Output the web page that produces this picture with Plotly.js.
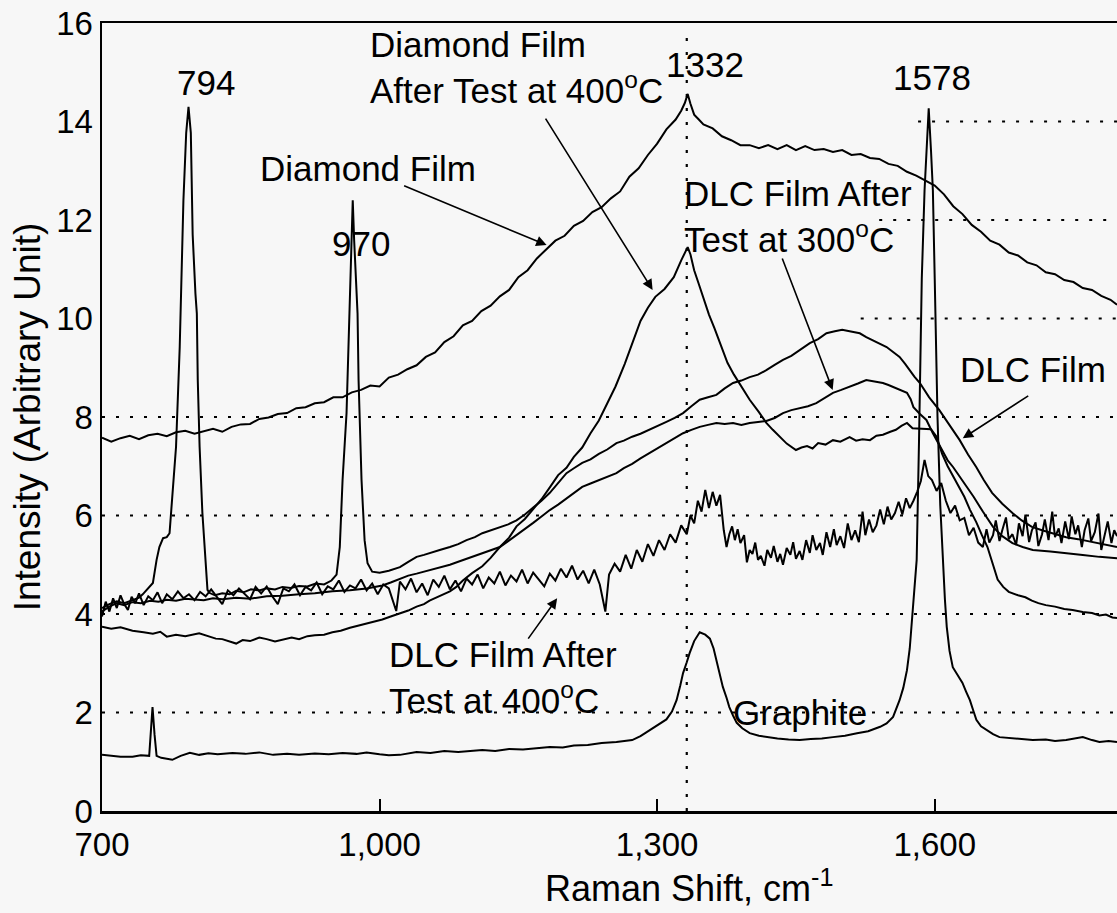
<!DOCTYPE html>
<html>
<head>
<meta charset="utf-8">
<script src="https://cdn.plot.ly/plotly-3.0.1.min.js"></script>
<style>html,body{margin:0;padding:0;background:#f7f7f7;}</style>
</head>
<body>
<div id="chart" style="width:1117px;height:913px;"></div>
<script>
// ---------- DATA (Raman shift cm-1, intensity a.u.) ----------
const diamondFilm = [[700,7.58],[710,7.50],[720,7.57],[730,7.62],[740,7.55],[750,7.63],[760,7.66],[770,7.61],[780,7.69],[790,7.72],[800,7.66],[810,7.71],[820,7.76],[830,7.70],[840,7.80],[850,7.85],[860,7.86],[870,7.96],[880,7.99],[890,8.06],[900,8.08],[910,8.18],[920,8.20],[930,8.28],[940,8.30],[950,8.40],[960,8.40],[970,8.50],[980,8.55],[990,8.64],[1000,8.62],[1010,8.80],[1020,8.86],[1030,8.97],[1040,9.05],[1050,9.22],[1060,9.31],[1070,9.52],[1080,9.64],[1090,9.86],[1100,9.95],[1110,10.15],[1120,10.26],[1130,10.45],[1140,10.58],[1150,10.84],[1160,10.98],[1170,11.22],[1180,11.40],[1190,11.58],[1200,11.68],[1210,11.88],[1220,11.98],[1230,12.16],[1240,12.26],[1250,12.44],[1260,12.58],[1270,12.88],[1280,13.05],[1290,13.32],[1300,13.55],[1310,13.84],[1320,14.04],[1326,14.22],[1330,14.38],[1333,14.56],[1336,14.36],[1340,14.14],[1345,14.04],[1350,13.94],[1360,13.86],[1370,13.70],[1380,13.62],[1390,13.52],[1400,13.52],[1410,13.46],[1420,13.52],[1430,13.44],[1440,13.52],[1450,13.42],[1460,13.50],[1470,13.42],[1480,13.44],[1490,13.38],[1500,13.42],[1510,13.32],[1520,13.34],[1530,13.26],[1540,13.24],[1550,13.14],[1560,13.10],[1570,12.98],[1580,12.90],[1590,12.80],[1600,12.70],[1610,12.52],[1620,12.28],[1630,12.12],[1640,11.90],[1650,11.76],[1660,11.58],[1670,11.50],[1680,11.34],[1690,11.28],[1700,11.14],[1710,11.08],[1720,10.94],[1730,10.90],[1740,10.78],[1750,10.74],[1760,10.62],[1770,10.58],[1780,10.46],[1790,10.38],[1797,10.28]];

const diamondAfter400 = [[700,3.74],[710,3.70],[720,3.73],[733,3.66],[745,3.63],[755,3.60],[763,3.64],[770,3.54],[780,3.58],[790,3.55],[805,3.61],[815,3.54],[823,3.50],[830,3.49],[838,3.44],[845,3.40],[852,3.47],[860,3.45],[870,3.52],[878,3.49],[887,3.44],[895,3.47],[905,3.52],[913,3.49],[922,3.55],[930,3.57],[940,3.58],[949,3.63],[958,3.66],[968,3.72],[977,3.76],[985,3.81],[994,3.84],[1003,3.89],[1012,3.95],[1022,4.01],[1031,4.07],[1040,4.15],[1048,4.20],[1054,4.27],[1065,4.36],[1076,4.46],[1083,4.55],[1090,4.68],[1100,4.83],[1111,4.97],[1120,5.14],[1130,5.36],[1140,5.55],[1148,5.78],[1157,5.93],[1166,6.12],[1175,6.33],[1184,6.57],[1193,6.82],[1202,6.97],[1210,7.19],[1219,7.38],[1228,7.67],[1237,7.93],[1246,8.28],[1255,8.62],[1265,9.08],[1272,9.44],[1282,9.95],[1290,10.22],[1298,10.44],[1308,10.60],[1318,10.84],[1326,11.18],[1330,11.35],[1333,11.45],[1336,11.30],[1340,10.98],[1345,10.70],[1350,10.40],[1356,10.08],[1362,9.80],[1369,9.44],[1376,9.10],[1383,8.86],[1392,8.60],[1400,8.35],[1410,8.10],[1418,7.88],[1425,7.74],[1432,7.60],[1440,7.46],[1450,7.33],[1456,7.38],[1462,7.41],[1468,7.36],[1474,7.47],[1482,7.44],[1490,7.53],[1498,7.50],[1508,7.59],[1515,7.52],[1522,7.55],[1530,7.53],[1537,7.62],[1544,7.64],[1552,7.70],[1558,7.74],[1564,7.82],[1570,7.88],[1576,7.77],[1586,7.76],[1596,7.75],[1602,7.60],[1608,7.25],[1614,7.00],[1620,6.80],[1626,6.58],[1632,6.38],[1638,6.12],[1645,5.86],[1651,5.60],[1657,5.36],[1663,5.00],[1668,4.70],[1674,4.55],[1680,4.45],[1690,4.38],[1698,4.34],[1705,4.27],[1712,4.22],[1720,4.18],[1730,4.15],[1740,4.10],[1749,4.08],[1760,4.04],[1770,4.02],[1778,3.97],[1785,3.99],[1792,3.93],[1797,3.92]];

const dlcFilm = [[700,4.12],[708,4.20],[716,4.26],[724,4.22],[733,4.28],[740,4.33],[744,4.40],[750,4.52],[755,4.63],[759,5.10],[762,5.36],[766,5.54],[770,5.56],[773,5.64],[776,6.38],[780,7.39],[784,9.42],[786,10.8],[788,12.4],[791,13.77],[793.5,14.3],[796,13.77],[798,11.7],[801,10.5],[802.5,10.1],[803.5,8.75],[805.5,7.39],[808.5,6.05],[812,5.03],[814,4.49],[816,4.43],[822,4.38],[830,4.42],[838,4.40],[845,4.47],[853,4.44],[861,4.50],[870,4.48],[878,4.52],[887,4.50],[895,4.55],[904,4.53],[913,4.57],[922,4.56],[931,4.62],[940,4.60],[948,4.68],[953.5,4.80],[957,5.36],[960,6.72],[964.3,8.08],[967.6,10.1],[969.7,11.2],[971,12.4],[972.5,11.6],[975,10.38],[976.2,10.1],[977.3,8.75],[980.5,6.72],[983.8,5.5],[987,5.03],[992,4.86],[1000,4.84],[1010,4.88],[1022,4.95],[1031,5.06],[1040,5.16],[1048,5.20],[1054,5.24],[1065,5.30],[1076,5.36],[1085,5.42],[1094,5.50],[1103,5.56],[1111,5.64],[1120,5.70],[1130,5.77],[1139,5.82],[1148,5.90],[1157,6.02],[1166,6.16],[1175,6.30],[1184,6.46],[1193,6.66],[1202,6.86],[1210,6.96],[1219,7.07],[1228,7.14],[1237,7.25],[1246,7.34],[1256,7.47],[1264,7.52],[1273,7.60],[1282,7.66],[1292,7.74],[1300,7.82],[1310,7.90],[1319,7.98],[1328,8.08],[1337,8.22],[1346,8.35],[1355,8.40],[1364,8.45],[1373,8.58],[1382,8.69],[1391,8.74],[1400,8.81],[1409,8.86],[1418,8.95],[1427,9.06],[1436,9.16],[1445,9.24],[1454,9.35],[1465,9.50],[1474,9.58],[1483,9.70],[1492,9.74],[1500,9.77],[1508,9.74],[1519,9.70],[1526,9.62],[1533,9.56],[1540,9.50],[1548,9.42],[1555,9.32],[1562,9.22],[1568,9.08],[1573,8.95],[1578,8.82],[1584,8.69],[1594,8.40],[1605,8.14],[1616,7.84],[1627,7.53],[1636,7.24],[1645,6.98],[1653,6.72],[1662,6.46],[1673,6.24],[1684,6.05],[1694,5.90],[1705,5.77],[1716,5.70],[1730,5.62],[1742,5.56],[1755,5.52],[1766,5.48],[1778,5.44],[1788,5.40],[1797,5.36]];

const dlcAfter300 = [[700,4.05],[708,4.15],[716,4.22],[724,4.18],[733,4.24],[742,4.22],[752,4.27],[761,4.25],[770,4.29],[780,4.27],[790,4.31],[800,4.30],[810,4.28],[820,4.32],[830,4.30],[845,4.33],[860,4.31],[878,4.36],[895,4.37],[913,4.40],[930,4.42],[949,4.46],[968,4.48],[986,4.52],[1003,4.58],[1012,4.64],[1022,4.72],[1031,4.78],[1040,4.82],[1054,4.89],[1065,4.94],[1076,5.00],[1085,5.06],[1094,5.12],[1103,5.17],[1111,5.22],[1120,5.28],[1130,5.36],[1139,5.48],[1148,5.60],[1157,5.72],[1166,5.85],[1175,5.98],[1184,6.11],[1193,6.22],[1202,6.35],[1210,6.46],[1219,6.58],[1228,6.65],[1237,6.72],[1246,6.78],[1256,6.86],[1264,6.96],[1273,7.05],[1282,7.16],[1292,7.27],[1300,7.36],[1310,7.47],[1319,7.58],[1328,7.67],[1337,7.74],[1346,7.80],[1355,7.84],[1364,7.88],[1373,7.86],[1382,7.88],[1391,7.84],[1400,7.88],[1409,7.90],[1418,7.92],[1427,7.98],[1436,8.08],[1445,8.14],[1454,8.18],[1463,8.22],[1472,8.28],[1481,8.38],[1490,8.49],[1499,8.55],[1508,8.61],[1517,8.68],[1526,8.75],[1535,8.72],[1544,8.69],[1550,8.65],[1555,8.61],[1563,8.55],[1570,8.49],[1574,8.36],[1577,8.20],[1584,8.06],[1591,7.94],[1598,7.67],[1604,7.46],[1609,7.27],[1614,7.12],[1620,6.98],[1631,6.68],[1642,6.38],[1652,6.08],[1663,5.77],[1673,5.58],[1684,5.44],[1695,5.36],[1706,5.30],[1725,5.27],[1743,5.24],[1760,5.20],[1778,5.16],[1797,5.13]];

const dlcAfter400 = [[700,3.95],[704,4.25],[708,4.05],[712,4.32],[716,4.12],[720,4.38],[724,4.20],[728,4.08],[732,4.35],[736,4.22],[740,4.42],[745,4.18],[750,4.36],[755,4.28],[760,4.44],[765,4.22],[770,4.40],[776,4.30],[782,4.46],[788,4.32],[794,4.40],[800,4.28],[806,4.45],[812,4.36],[818,4.50],[824,4.34],[830,4.20],[836,4.48],[842,4.38],[848,4.52],[854,4.40],[860,4.30],[866,4.55],[872,4.42],[878,4.56],[884,4.36],[890,4.20],[896,4.52],[902,4.46],[908,4.60],[914,4.38],[920,4.55],[926,4.48],[932,4.64],[938,4.40],[944,4.56],[950,4.50],[956,4.68],[962,4.45],[968,4.58],[974,4.52],[980,4.70],[986,4.48],[992,4.62],[998,4.40],[1004,4.60],[1010,4.52],[1018,4.06],[1022,4.66],[1028,4.50],[1034,4.72],[1040,4.44],[1046,4.62],[1052,4.38],[1058,4.70],[1064,4.55],[1070,4.78],[1076,4.50],[1082,4.68],[1088,4.46],[1094,4.72],[1100,4.60],[1106,4.80],[1112,4.52],[1118,4.74],[1124,4.62],[1130,4.86],[1136,4.58],[1142,4.78],[1148,4.66],[1154,4.90],[1160,4.62],[1166,4.84],[1172,4.70],[1178,4.56],[1184,4.82],[1190,4.68],[1196,4.92],[1202,4.74],[1208,4.98],[1214,4.70],[1220,4.88],[1226,4.62],[1232,4.90],[1238,4.60],[1244,4.05],[1248,4.80],[1254,5.02],[1260,4.86],[1266,5.20],[1272,4.92],[1278,5.30],[1284,5.06],[1290,5.42],[1296,5.18],[1302,5.50],[1308,5.30],[1314,5.62],[1320,5.45],[1326,5.80],[1332,5.62],[1336,6.00],[1340,5.84],[1344,6.30],[1348,6.08],[1352,6.52],[1356,6.15],[1360,6.48],[1364,6.20],[1368,6.42],[1372,5.70],[1375,5.36],[1378,5.62],[1381,5.78],[1384,5.50],[1387,5.72],[1390,5.44],[1394,5.60],[1397,5.05],[1400,5.30],[1403,5.22],[1406,5.45],[1409,5.10],[1412,5.18],[1416,4.98],[1419,5.30],[1423,5.14],[1426,5.38],[1430,5.06],[1433,5.22],[1436,5.00],[1440,5.34],[1444,5.20],[1447,5.46],[1450,5.12],[1454,5.28],[1457,5.10],[1461,5.50],[1465,5.24],[1468,5.60],[1472,5.30],[1476,5.44],[1479,5.20],[1483,5.66],[1487,5.36],[1491,5.72],[1494,5.40],[1498,5.58],[1502,5.34],[1506,5.84],[1510,5.50],[1514,5.70],[1518,5.46],[1522,6.08],[1525,5.60],[1529,5.92],[1533,5.66],[1537,5.80],[1541,6.12],[1545,5.82],[1549,6.18],[1553,5.92],[1557,6.05],[1561,6.28],[1565,6.02],[1569,6.35],[1573,6.15],[1577,6.30],[1581,6.48],[1585,6.70],[1589,7.13],[1593,6.80],[1597,6.72],[1602,6.50],[1607,6.66],[1612,6.30],[1617,6.05],[1622,6.20],[1627,5.90],[1632,5.95],[1637,5.60],[1642,5.75],[1647,5.45],[1652,5.36],[1656,5.72],[1659,5.45],[1663,5.60],[1666,5.90],[1670,5.48],[1673,5.70],[1677,5.96],[1680,5.52],[1684,5.62],[1688,5.40],[1691,5.84],[1695,5.58],[1698,6.02],[1702,5.46],[1705,5.70],[1709,5.86],[1712,5.38],[1716,5.62],[1719,5.92],[1723,5.50],[1727,6.08],[1730,5.56],[1734,5.74],[1737,5.44],[1741,5.88],[1745,5.52],[1748,5.98],[1752,5.62],[1755,5.80],[1759,5.36],[1762,5.70],[1766,5.94],[1769,5.48],[1773,5.66],[1777,6.04],[1780,5.30],[1784,5.62],[1787,5.88],[1791,5.44],[1794,5.70],[1797,5.58]];

const graphite = [[700,1.14],[710,1.12],[720,1.10],[733,1.10],[742,1.13],[751,1.12],[754.6,2.11],[756.8,1.55],[759,1.12],[764,1.08],[770,1.06],[776,1.04],[785,1.12],[795,1.18],[805,1.14],[815,1.17],[825,1.15],[841,1.18],[855,1.16],[870,1.19],[885,1.14],[900,1.16],[913,1.14],[930,1.17],[945,1.15],[960,1.18],[975,1.16],[986,1.19],[1000,1.15],[1010,1.13],[1022,1.14],[1030,1.17],[1040,1.20],[1055,1.18],[1070,1.22],[1085,1.20],[1100,1.23],[1111,1.24],[1125,1.22],[1140,1.26],[1155,1.25],[1170,1.28],[1184,1.30],[1198,1.29],[1210,1.33],[1225,1.34],[1240,1.38],[1256,1.40],[1265,1.42],[1273,1.44],[1282,1.52],[1292,1.64],[1300,1.74],[1310,1.86],[1316,2.02],[1321,2.25],[1325,2.55],[1328,2.80],[1332,3.02],[1335,3.20],[1340,3.45],[1346,3.63],[1352,3.58],[1357,3.50],[1361,3.30],[1364,3.07],[1368,2.75],[1371,2.52],[1375,2.30],[1378,2.11],[1382,1.94],[1386,1.79],[1392,1.68],[1400,1.58],[1410,1.53],[1418,1.50],[1430,1.47],[1442,1.45],[1454,1.44],[1466,1.46],[1478,1.47],[1490,1.50],[1503,1.53],[1516,1.58],[1528,1.62],[1541,1.71],[1548,1.78],[1555,1.91],[1562,2.25],[1566,2.50],[1570,2.86],[1573,3.30],[1575,3.74],[1578,4.43],[1580.5,5.1],[1583,7.5],[1586,10.8],[1589,12.6],[1591,13.4],[1593.5,14.27],[1596,13.4],[1598,12.6],[1600,10.8],[1603,8.0],[1606,6.2],[1608.6,5.1],[1611,4.3],[1613,3.74],[1616,3.25],[1619.5,2.92],[1625,2.75],[1630,2.60],[1634,2.42],[1638,2.25],[1642,2.02],[1645,1.85],[1650,1.72],[1656,1.64],[1663,1.56],[1670,1.50],[1680,1.48],[1690,1.46],[1706,1.44],[1720,1.45],[1730,1.42],[1742,1.44],[1752,1.47],[1760,1.50],[1770,1.44],[1778,1.40],[1788,1.42],[1797,1.40]];

const xTickVals = [700, 1000, 1300, 1600];
const yTickVals = [0, 2, 4, 6, 8, 10, 12, 14, 16];
const seriesNames = ['Diamond Film', 'Diamond Film After Test at 400°C', 'DLC Film', 'DLC Film After Test at 300°C', 'DLC Film After Test at 400°C', 'Graphite'];
const seriesData = [diamondFilm, diamondAfter400, dlcFilm, dlcAfter300, dlcAfter400, graphite];

// ---------- CHART ----------
const FONT = '"Liberation Sans", Arial, Helvetica, sans-serif';
const traces = seriesData.map((d, i) => ({
  type: 'scatter', mode: 'lines', name: seriesNames[i],
  x: d.map(p => p[0]), y: d.map(p => p[1]),
  line: {color: '#000', width: 2}, hoverinfo: 'skip'
}));

const dotted = {color: '#000', width: 2.2, dash: '3px,11px'};
function hseg(y, x0) { return {type:'line', xref:'x', yref:'y', x0:x0, x1:1797, y0:y, y1:y, line:dotted, layer:'below'}; }
const shapes = [hseg(2,700), hseg(4,700), hseg(6,700), hseg(8,700), hseg(10,1520), hseg(12,1540), hseg(14,1582),
  {type:'line', xref:'x', yref:'y', x0:1332, x1:1332, y0:0, y1:15.8, line:dotted, layer:'below'}];

const AF = {family: FONT, size: 35, color: '#000'};
function label(text, x, y, xanchor, align) {
  return {text, x, y, xref:'x', yref:'y', showarrow:false, xanchor: xanchor || 'center', yanchor:'middle', align: align || 'center', font: AF};
}
function arrow(x, y, ax, ay) {
  return {text:'', x, y, ax, ay, xref:'x', yref:'y', axref:'x', ayref:'y', showarrow:true, arrowhead:2, arrowsize:1.3, arrowwidth:1.6, arrowcolor:'#000'};
}
const annotations = [
  label('794', 812, 14.80),
  label('970', 979.5, 11.53),
  label('Diamond Film', 988, 13.04),
  label('Diamond Film<br>After Test at 400<sup>o</sup>C', 987, 15.09, 'left', 'left'),
  label('1332', 1351.4, 15.15),
  label('1578', 1596.8, 14.90),
  label('DLC Film After<br>Test at 300<sup>o</sup>C', 1326.5, 12.08, 'left', 'left'),
  label('DLC Film', 1706, 8.97),
  label('DLC Film After<br>Test at 400<sup>o</sup>C', 1007.6, 2.71, 'left', 'left'),
  label('Graphite', 1454, 2.01),
  arrow(1180.5, 11.49, 1024.9, 12.71),
  arrow(1295.1, 10.58, 1178.4, 14.09),
  arrow(1489.7, 8.55, 1434.6, 11.25),
  arrow(1630.3, 7.57, 1702.7, 8.45),
  arrow(1191.9, 4.32, 1159.5, 3.47),
  {text:'Raman Shift, cm<sup>-1</sup>', x:1335, y:-0.095, xref:'x', yref:'paper', showarrow:false, xanchor:'center', yanchor:'middle', font:{family:FONT, size:36, color:'#000'}}
];

const layout = {
  width: 1117, height: 913,
  margin: {l: 102, r: 0, t: 23, b: 102, pad: 0},
  paper_bgcolor: '#f7f7f7', plot_bgcolor: '#f7f7f7',
  showlegend: false,
  font: {family: FONT, color: '#000', size: 33},
  xaxis: {range: [700, 1797], tickvals: xTickVals, tickformat: ',', ticks: 'inside', ticklen: 12, tickwidth: 2, tickcolor: '#000',
    showline: true, linecolor: '#000', linewidth: 2.5, mirror: true, showgrid: false, zeroline: false, ticklabelstandoff: 3,
    tickfont: {family: FONT, size: 33, color: '#000'}},
  yaxis: {range: [0, 16], tickvals: yTickVals, ticks: '', showline: true, linecolor: '#000', linewidth: 2.5, showgrid: false, zeroline: false,
    tickfont: {family: FONT, size: 33, color: '#000'},
    title: {text: 'Intensity (Arbitrary Unit)', font: {family: FONT, size: 37, color: '#000'}, standoff: 4}},
  shapes, annotations
};

Plotly.newPlot('chart', traces, layout, {staticPlot: true, displayModeBar: false});
</script>
</body>
</html>
